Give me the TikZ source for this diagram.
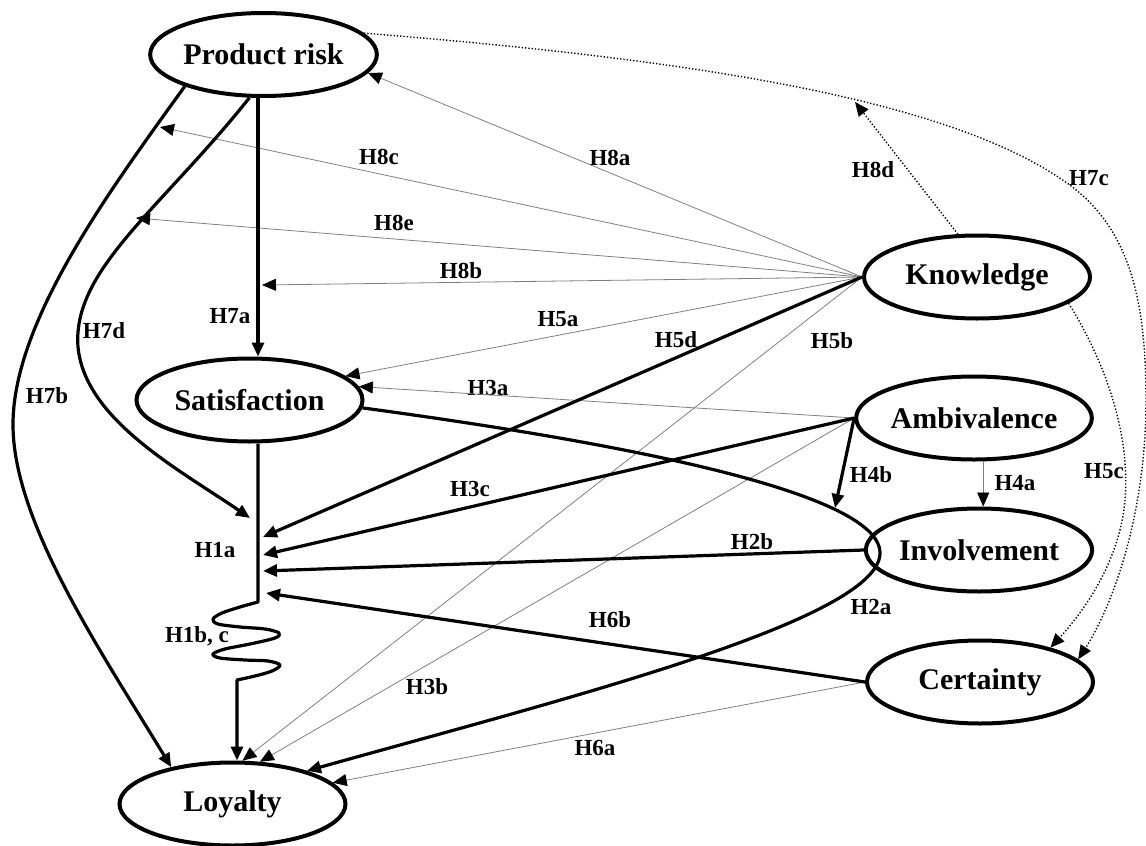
\documentclass[tikz,border=0pt]{standalone}
\usepackage{fontspec}
\setmainfont{Liberation Serif}
\usetikzlibrary{arrows.meta,shapes.geometric,calc}
\begin{document}
\begin{tikzpicture}[x=1pt,y=-1pt,
  var/.style={ellipse, draw, line width=4pt, minimum width=226pt, minimum height=83pt, inner sep=0pt, font=\fontsize{30}{33}\selectfont\bfseries},
  hlab/.style={font=\fontsize{23}{25}\selectfont\bfseries, inner sep=0pt},
  thk/.style={line width=3.2pt},
  thn/.style={line width=0.8pt, black!50},
  dotln/.style={line width=1.4pt, dash pattern=on 1.3pt off 2pt},
  arr/.style={-{Triangle[length=14pt,width=12pt,color=black]}}
]
\useasboundingbox (0,0) rectangle (1146,846);

% labels
\node[hlab] (l8c) at (379,157) {H8c};
\node[hlab] (l8a) at (610,158) {H8a};
\node[hlab] (l8d) at (873,170) {H8d};
\node[hlab] (l7c) at (1089,178) {H7c};
\node[hlab] (l8e) at (394,223) {H8e};
\node[hlab] (l8b) at (461,271) {H8b};
\node[hlab] (l7a) at (230,316) {H7a};
\node[hlab] (l7d) at (104,331) {H7d};
\node[hlab] (l5a) at (558,319) {H5a};
\node[hlab] (l5d) at (676,340) {H5d};
\node[hlab] (l5b) at (832,341) {H5b};
\node[hlab] (l3a) at (488,388) {H3a};
\node[hlab] (l7b) at (47,396) {H7b};
\node[hlab] (l4b) at (871,475) {H4b};
\node[hlab] (l4a) at (1015,483) {H4a};
\node[hlab] (l5c) at (1104,471) {H5c};
\node[hlab] (l3c) at (470,489) {H3c};
\node[hlab] (l2b) at (752,542) {H2b};
\node[hlab] (l1a) at (215,550) {H1a};
\node[hlab] (l2a) at (871,607) {H2a};
\node[hlab] (l6b) at (610,620) {H6b};
\node[hlab] (l1bc) at (197,636) {H1b, c};
\node[hlab] (l3b) at (427,687) {H3b};
\node[hlab] (l6a) at (595,748) {H6a};

% variables
\node[var] (pr) at (263.5,54.5) {Product risk};
\node[var] (sat) at (249.5,400) {Satisfaction};
\node[var] (kn) at (977,277) {Knowledge};
\node[var] (amb) at (974,418) {Ambivalence};
\node[var] (inv) at (979,550) {Involvement};
\node[var] (cer) at (980,682) {Certainty};
\node[var] (loy) at (232.5,804) {Loyalty};

% helper coordinates
\coordinate (sx) at (258,0);
\coordinate (w0) at (258,602);
\coordinate (w1) at (237,680);
\coordinate (t7d) at (250,518);
\coordinate (t5d) at (263,537);
\coordinate (t3c) at (263,555);
\coordinate (t2b) at (263,571);
\coordinate (t6b) at (266,593);
\coordinate (t8b) at (262,285);
\coordinate (t8e) at (136,218);
\coordinate (t8c) at (160,127);
\coordinate (t4b) at (835,508);
\coordinate (t8d) at (855,102);
\coordinate (bend) at (880,553);

% thin grey connectors
\draw[thn,arr] (kn.west) -- (pr.-10);
\draw[thn,arr] (kn.west) -- (t8c);
\draw[thn,arr] (kn.west) -- (t8e);
\draw[thn,arr] (kn.west) -- (t8b);
\draw[thn,arr] (kn.west) -- (sat.14);
\draw[thn,arr] (kn.west) -- (loy.77);
\draw[thn,arr] (amb.west) -- (sat.7);
\draw[thn,arr] (amb.west) -- (loy.57);
\draw[thn,arr] (cer.west) -- (loy.12);
\draw[thn,arr] (amb.282) -- (amb.282 |- inv.north);

% dotted connectors
\draw[dotln,arr] (pr.12) .. controls (700,60) and (950,100) .. (1067,183)
  .. controls (1130,228) and (1146,300) .. (1146,400)
  .. controls (1146,520) and (1110,610) .. (cer.13);
\draw[dotln,arr] (kn.-16) .. controls (1110,370) and (1130,440) .. (1125,500)
  .. controls (1120,560) and (1085,610) .. (cer.26);
\draw[dotln,arr] (kn.114) -- (t8d);

% thick connectors
\draw[thk,arr] (pr.202) .. controls (110,190) and (14,320) .. (13,423)
  .. controls (12,520) and (100,650) .. (loy.149);
\draw[thk,arr] (pr.252) .. controls (160,210) and (72,270) .. (78,347)
  .. controls (85,420) and (180,470) .. (t7d);
\draw[thk,arr] (sx |- pr.south) -- (sx |- sat.north);
\draw[thk,arr,line join=round] (sx |- sat.south) -- (w0) -- plot[smooth,tension=0.55] coordinates {(258,602) (240,607) (222,613) (213,619) (218,624) (240,627) (265,629) (279,633) (275,638) (250,644) (225,649) (213,654) (220,658) (245,660) (268,661) (280,665) (272,671) (255,676) (237,680)} -- (w1 |- loy.north);
\draw[thk,arr] (kn.west) -- (t5d);
\draw[thk,arr] (amb.west) -- (t3c);
\draw[thk,arr] (inv.west) -- (t2b);
\draw[thk,arr] (cer.west) -- (t6b);
\draw[thk,arr] (amb.west) -- (t4b);
\draw[thk,arr] (sat.-4) .. controls (600,440) and (880,490) .. (bend)
  .. controls (880,620) and (560,700) .. (loy.24);
\end{tikzpicture}
\end{document}
